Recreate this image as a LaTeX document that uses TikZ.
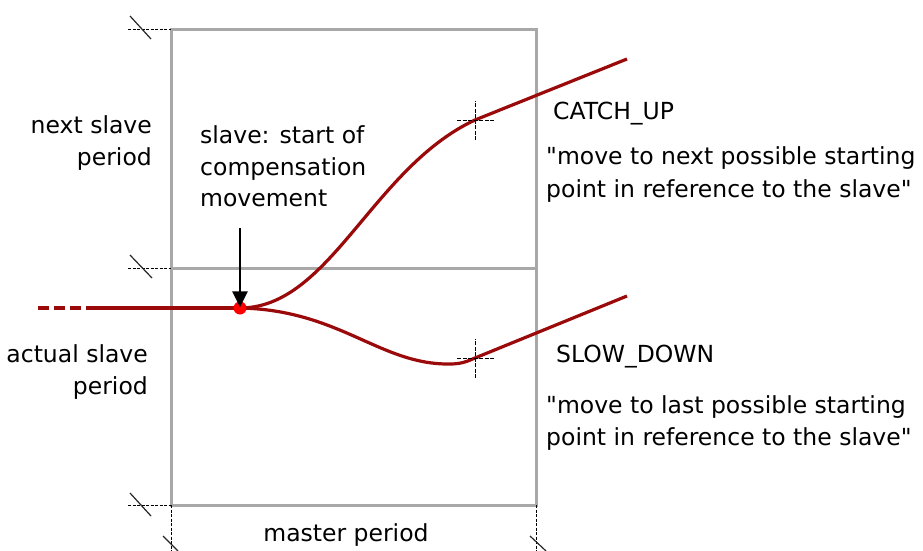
\documentclass[tikz,border=0pt]{standalone}
\usepackage{fontspec}
\newfontfamily\lblfont{DejaVu Sans}
\usetikzlibrary{arrows.meta}
\definecolor{curvered}{HTML}{9B0A0A}
\definecolor{boxgray}{HTML}{A8A8A8}
\begin{document}
\begin{tikzpicture}[x=1pt,y=-1pt,
  boxline/.style={draw=boxgray,line width=3pt},
  tickline/.style={draw=black,line width=1pt,dash pattern=on 3pt off 1.5pt},
  slashline/.style={draw=black!85,line width=1.2pt},
  motion/.style={draw=curvered,line width=3.2pt},
  cross/.style={draw=black,line width=1pt,dash pattern=on 4pt off 1.5pt},
  lbl/.style={inner sep=0pt,font=\lblfont\fontsize{23.5}{32}\selectfont}]
\useasboundingbox (0,0) rectangle (923,551);
% box
\coordinate (tl) at (171,30);
\coordinate (tr) at (536,30);
\coordinate (ml) at (171,268);
\coordinate (mr) at (536,268);
\coordinate (bl) at (171,505);
\coordinate (br) at (536,505);
\draw[boxline] (tl) -- (tr) -- (br) -- (bl) -- cycle;
\draw[boxline] (ml) -- (mr);
% ticks
\coordinate (tt) at (128,30);
\coordinate (mt) at (128,268);
\coordinate (bt) at (128,505);
\coordinate (blb) at (171,551);
\coordinate (brb) at (536,551);
\draw[tickline] (tt) -- (tl);
\draw[tickline] (mt) -- (ml);
\draw[tickline] (bt) -- (bl);
\draw[tickline] (bl) -- (blb);
\draw[tickline] (br) -- (brb);
\coordinate (s1a) at (130,16);  \coordinate (s1b) at (151,39);
\coordinate (s2a) at (130,255); \coordinate (s2b) at (152,278);
\coordinate (s3a) at (130,493); \coordinate (s3b) at (151,516);
\coordinate (s4a) at (163,536); \coordinate (s4b) at (178,551);
\coordinate (s5a) at (530,536); \coordinate (s5b) at (546,551);
\draw[slashline] (s1a) -- (s1b);
\draw[slashline] (s2a) -- (s2b);
\draw[slashline] (s3a) -- (s3b);
\draw[slashline] (s4a) -- (s4b);
\draw[slashline] (s5a) -- (s5b);
% motion curves
\coordinate (start) at (38,308);
\coordinate (dashend) at (92,308);
\coordinate (p0) at (240,308);
\coordinate (c1) at (475,120);
\coordinate (e1) at (627,59);
\coordinate (m2) at (450,364);
\coordinate (c2) at (475,358);
\coordinate (e2) at (627,296);
\draw[motion,dash pattern=on 11pt off 5pt] (start) -- (dashend);
\draw[motion] (dashend) -- (p0);
\draw[motion] (p0) .. controls (330,308) and (372,168) .. (c1) -- (e1);
\draw[motion] (p0) .. controls (340,310) and (380,365) .. (m2)
  .. controls (462,364) and (468,361) .. (c2) -- (e2);
% crosshairs
\draw[cross] ([xshift=-18pt]c1) -- ([xshift=20pt]c1);
\draw[cross] ([yshift=-20pt]c1) -- ([yshift=19pt]c1);
\draw[cross] ([xshift=-18pt]c2) -- ([xshift=20pt]c2);
\draw[cross] ([yshift=-20pt]c2) -- ([yshift=19pt]c2);
% red dot
\node[circle,fill=red,inner sep=0pt,minimum size=13pt] (dot) at (p0) {};
% arrow
\coordinate (atop) at (240,228);
\draw[-{Triangle[length=16pt,width=15pt]},line width=2.8pt,black] (atop) -- ([yshift=-6pt]dot.north);
% labels
\node[lbl,anchor=base east] (ns1) at (152,133) {next slave};
\node[lbl,anchor=base east] (ns2) at (152,165) {period};
\node[lbl,anchor=base west] (sl1) at (200,143) {slave: start of};
\node[lbl,anchor=base west] (sl2) at (200,175) {compensation};
\node[lbl,anchor=base west] (sl3) at (200,206) {movement};
\node[lbl,anchor=base east] (as1) at (148,362) {actual slave};
\node[lbl,anchor=base east] (as2) at (148,394) {period};
\node[lbl,anchor=base west] (cu) at (553,119) {CATCH\_UP};
\node[lbl,anchor=base west] (cu1) at (546,164) {"move to next possible starting};
\node[lbl,anchor=base west] (cu2) at (546,197) {point in reference to the slave"};
\node[lbl,anchor=base west] (sd) at (556,362) {SLOW\_DOWN};
\node[lbl,anchor=base west] (sd1) at (546,413) {"move to last possible starting};
\node[lbl,anchor=base west] (sd2) at (546,445) {point in reference to the slave"};
\node[lbl,anchor=base] (mp) at (346,541) {master period};
\end{tikzpicture}
\end{document}
